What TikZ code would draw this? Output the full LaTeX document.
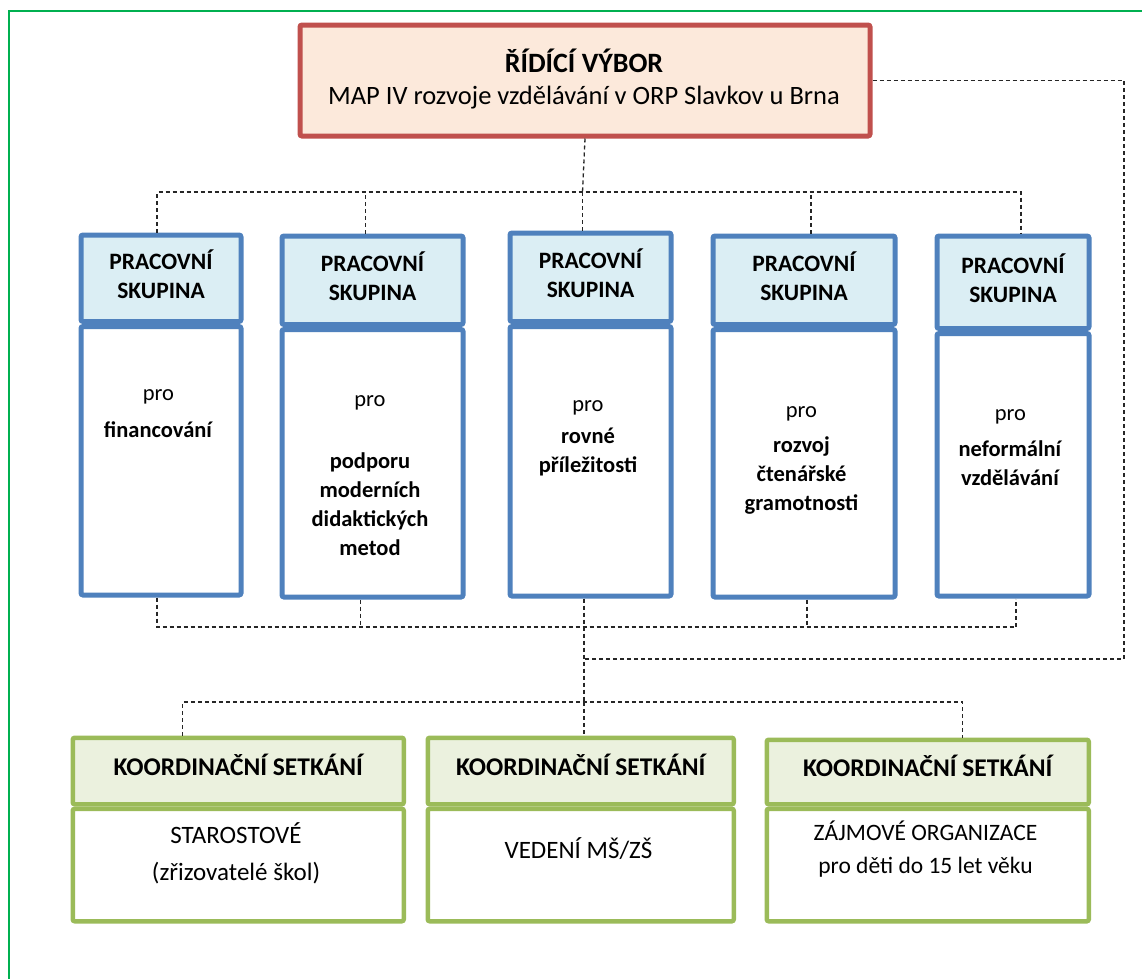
\documentclass[tikz,border=0pt]{standalone}
\usepackage{fontspec}
\setmainfont{Carlito}
\usetikzlibrary{positioning}

\definecolor{ramzel}{RGB}{0,176,80}
\definecolor{vyborcerv}{RGB}{192,80,77}
\definecolor{vyborfill}{RGB}{252,233,219}
\definecolor{skupmodra}{RGB}{79,129,189}
\definecolor{skupfill}{RGB}{219,238,244}
\definecolor{koordzel}{RGB}{155,187,89}
\definecolor{koordfill}{RGB}{235,241,222}

\tikzset{
  vybor/.style={draw=vyborcerv, fill=vyborfill, line width=5pt, rounded corners=2pt,
    align=center, inner sep=0pt, anchor=north west},
  skuphlava/.style={draw=skupmodra, fill=skupfill, line width=5pt, rounded corners=2pt,
    align=center, inner sep=0pt, anchor=north west, text depth=8pt,
    font=\bfseries\fontsize{23.5}{29}\selectfont},
  skuptelo/.style={draw=skupmodra, fill=white, line width=5pt, rounded corners=2pt,
    inner sep=0pt, anchor=north west},
  skuptext/.style={align=center, inner sep=0pt, font=\fontsize{22.5}{29}\selectfont},
  koordhlava/.style={draw=koordzel, fill=koordfill, line width=4.5pt, rounded corners=2pt,
    align=center, inner sep=0pt, anchor=north west, text depth=12pt,
    font=\bfseries\fontsize{25.5}{30}\selectfont},
  koordtelo/.style={draw=koordzel, fill=white, line width=4.5pt, rounded corners=2pt,
    inner sep=0pt, anchor=north west},
  koordtext/.style={align=center, inner sep=0pt, font=\fontsize{25}{37}\selectfont},
  spoj/.style={draw=black!85, line width=1.3pt, dash pattern=on 4pt off 3pt},
}

\begin{document}
\begin{tikzpicture}[x=1pt, y=-1pt]
  \useasboundingbox (0,0) rectangle (1142,978);

  % outer frame
  \draw[ramzel, line width=2.7pt] (9,1100) -- (9,11) -- (1200,11);

  % steering committee
  \node[vybor, minimum width=570pt, minimum height=111pt] (vybor) at (297.5,22.5) {};
  \node[font=\bfseries\fontsize{28}{30}\selectfont] (vybornazev) at (584,61) {ŘÍDÍCÍ VÝBOR};
  \node[font=\fontsize{26.5}{30}\selectfont] (vyborpopis) at (584,98) {MAP IV rozvoje vzdělávání v ORP Slavkov u Brna};

  % working groups
  \node[skuphlava, minimum width=160pt, minimum height=86.5pt] (g1h) at (78.5,232.5) {PRACOVNÍ\\SKUPINA};
  \node[skuptelo, minimum width=160pt, minimum height=268.5pt] (g1) at (g1h.south west) {};
  \node[skuphlava, minimum width=181pt, minimum height=88.5pt] (g2h) at (279.5,233.5) {PRACOVNÍ\\SKUPINA};
  \node[skuptelo, minimum width=181pt, minimum height=267.5pt] (g2) at (g2h.south west) {};
  \node[skuphlava, minimum width=161pt, minimum height=88.5pt] (g3h) at (507.5,230.5) {PRACOVNÍ\\SKUPINA};
  \node[skuptelo, minimum width=161pt, minimum height=269.5pt] (g3) at (g3h.south west) {};
  \node[skuphlava, minimum width=182pt, minimum height=88.5pt] (g4h) at (710.5,233.5) {PRACOVNÍ\\SKUPINA};
  \node[skuptelo, minimum width=182pt, minimum height=267.5pt] (g4) at (g4h.south west) {};
  \node[skuphlava, minimum width=152pt, minimum height=92.5pt] (g5h) at (934.5,233.5) {PRACOVNÍ\\SKUPINA};
  \node[skuptelo, minimum width=152pt, minimum height=262.5pt] (g5) at (g5h.south west) {};

  \node[skuptext] (g1t) at (158.5,414) {pro\\[8pt]\textbf{financování}};
  \node[skuptext] (g2t) at (370,476) {pro\\[33pt]\textbf{podporu}\\\textbf{moderních}\\\textbf{didaktických}\\\textbf{metod}};
  \node[skuptext] (g3t) at (588,438) {pro\\[3pt]\textbf{rovné}\\\textbf{příležitosti}};
  \node[skuptext] (g4t) at (801.5,460) {pro\\[6pt]\textbf{rozvoj}\\\textbf{čtenářské}\\\textbf{gramotnosti}};
  \node[skuptext] (g5t) at (1010.5,448) {pro\\[7pt]\textbf{neformální}\\\textbf{vzdělávání}};

  % coordination meetings
  \node[koordhlava, minimum width=331pt, minimum height=66.5pt] (k1h) at (70.5,735.5) {KOORDINAČNÍ SETKÁNÍ};
  \node[koordtelo, minimum width=331pt, minimum height=112.5pt] (k1) at (k1h.south west) {};
  \node[koordhlava, minimum width=306pt, minimum height=66.5pt] (k2h) at (425.5,735.5) {KOORDINAČNÍ SETKÁNÍ};
  \node[koordtelo, minimum width=306pt, minimum height=112.5pt] (k2) at (k2h.south west) {};
  \node[koordhlava, minimum width=322pt, minimum height=64.5pt] (k3h) at (764.5,737.5) {KOORDINAČNÍ SETKÁNÍ};
  \node[koordtelo, minimum width=322pt, minimum height=112.5pt] (k3) at (k3h.south west) {};

  \node[koordtext] (k1t) at (236,853) {STAROSTOVÉ\\(zřizovatelé škol)};
  \node[koordtext] (k2t) at (578.5,849) {VEDENÍ MŠ/ZŠ};
  \node[koordtext, font=\fontsize{23.5}{33}\selectfont] (k3t) at (925.5,849) {ZÁJMOVÉ ORGANIZACE\\pro děti do 15 let věku};

  % connectors
  \coordinate (rozbocka) at (582.5,192);
  \coordinate (sber) at (584,627);
  \coordinate (uzel) at (584,659);
  \coordinate (pravyroh) at (1124,659);
  \coordinate (koordlinka) at (584,702);

  \draw[spoj] (vybor.south) -- (rozbocka);
  \draw[spoj] ([xshift=-4pt]g1h.north) |- (rozbocka) -| ([xshift=8pt]g5h.north);
  \draw[spoj] ([xshift=-7pt]g2h.north) -- ([xshift=-7pt]g2h.north |- rozbocka);
  \draw[spoj] (rozbocka) -- (rozbocka |- g3h.north);
  \draw[spoj] ([xshift=7pt]g4h.north) -- ([xshift=7pt]g4h.north |- rozbocka);

  \draw[spoj] ([xshift=-4pt]g1.south) |- (sber) -| ([xshift=3pt]g5.south);
  \draw[spoj] ([xshift=-12pt]g2.south) -- ([xshift=-12pt]g2.south |- sber);
  \draw[spoj] ([xshift=3pt]g4.south) -- ([xshift=3pt]g4.south |- sber);
  \draw[spoj] (g3.south -| sber) -- (koordlinka);

  \draw[spoj] (vybor.east) -| (pravyroh) -- (uzel);

  \draw[spoj] ([xshift=-56pt]k1h.north) |- (koordlinka) -| ([xshift=35pt]k3h.north);
  \draw[spoj] (koordlinka) -- (koordlinka |- k2h.north);
\end{tikzpicture}
\end{document}
